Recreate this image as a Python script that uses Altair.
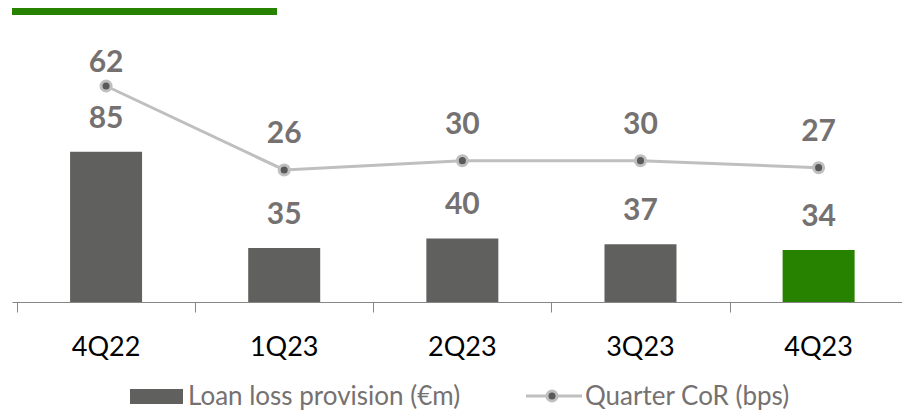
import altair as alt
import pandas as pd

categories = ["4Q22", "1Q23", "2Q23", "3Q23", "4Q23"]
provision = [85, 35, 40, 37, 34]
cor = [62, 26, 30, 30, 27]
legend_labels = ["Loan loss provision (€m)", "Quarter CoR (bps)"]

df = pd.DataFrame({"idx": list(range(len(categories))), "cat": categories,
                   "prov": provision, "cor": cor})

GRAY = "#60605E"
GREEN = "#278200"
LBL = "#767171"
LINE = "#BFBFBF"
DOT = "#595959"
AXIS = "#868686"
FONT = "Lato"

xscale = alt.Scale(domain=[-0.5, 4.44], nice=False, zero=False)
yb = alt.Scale(domain=[7, 153.3], nice=False, zero=False)
yl = alt.Scale(domain=[-30.6, 90.3], nice=False, zero=False)

base = alt.Chart(df)
x_ax = alt.X("idx:Q", scale=xscale,
             axis=alt.Axis(values=[-0.5, 0.5, 1.5, 2.5, 3.5], labels=False, grid=False,
                           ticks=True, tickSize=10, tickColor=AXIS, domainColor=AXIS,
                           tickWidth=1, domainWidth=1, title=None))
y_bar = alt.Y("prov:Q", scale=yb, axis=None)
y_line = alt.Y("cor:Q", scale=yl, axis=None)

bars = base.mark_bar(size=72, clip=True).encode(
    x=x_ax, y=y_bar,
    color=alt.condition(alt.datum.idx == 4, alt.value(GREEN), alt.value(GRAY)),
)
bar_labels = base.mark_text(dy=-33, baseline="middle", font=FONT, fontSize=30,
                            fontWeight="bold", color=LBL).encode(x=x_ax, y=y_bar, text="prov:Q")

line = base.mark_line(color=LINE, strokeWidth=3).encode(x=x_ax, y=y_line)
outer = base.mark_point(filled=True, size=170, color=LINE, opacity=1, shape="circle").encode(x=x_ax, y=y_line)
inner = base.mark_point(filled=True, size=50, color=DOT, opacity=1, shape="circle").encode(x=x_ax, y=y_line)
cor_first = base.transform_filter(alt.datum.idx == 0).mark_text(
    dy=-23, baseline="middle", font=FONT, fontSize=30, fontWeight="bold", color=LBL
).encode(x=x_ax, y=y_line, text="cor:Q")
cor_rest = base.transform_filter(alt.datum.idx > 0).mark_text(
    dy=-36, baseline="middle", font=FONT, fontSize=30, fontWeight="bold", color=LBL
).encode(x=x_ax, y=y_line, text="cor:Q")

cat_labels = base.mark_text(baseline="alphabetic", font=FONT, fontSize=27, color="black").encode(
    x=x_ax, y=alt.value(336), text="cat:N")

one = alt.Chart(pd.DataFrame({"a": [0]}))
top_bar = one.mark_rect(color=GREEN).encode(
    x=alt.value(0), x2=alt.value(265), y=alt.value(-12), y2=alt.value(-5))

LB = 385  # legend text baseline
leg_swatch = one.mark_rect(color=GRAY).encode(
    x=alt.value(118), x2=alt.value(171), y=alt.value(LB - 16), y2=alt.value(LB - 1))
leg_text1 = one.mark_text(text=legend_labels[0], align="left", baseline="alphabetic",
                          font=FONT, fontSize=26, color=LBL).encode(
    x=alt.value(176), y=alt.value(LB))
leg_line = one.mark_rule(color=LINE, strokeWidth=3).encode(
    x=alt.value(514), x2=alt.value(570), y=alt.value(LB - 9))
leg_outer = one.mark_point(filled=True, size=170, color=LINE, opacity=1, shape="circle").encode(
    x=alt.value(540), y=alt.value(LB - 9))
leg_inner = one.mark_point(filled=True, size=50, color=DOT, opacity=1, shape="circle").encode(
    x=alt.value(540), y=alt.value(LB - 9))
leg_text2 = one.mark_text(text=legend_labels[1], align="left", baseline="alphabetic",
                          font=FONT, fontSize=26, color=LBL).encode(
    x=alt.value(573), y=alt.value(LB))

chart = alt.layer(
    bars, bar_labels, line, outer, inner, cor_first, cor_rest, cat_labels,
    top_bar, leg_swatch, leg_text1, leg_line, leg_outer, leg_inner, leg_text2,
).resolve_scale(y="independent").properties(
    width=890, height=282,
    padding={"left": 4, "top": 12, "right": 0, "bottom": 110},
    autosize=alt.AutoSizeParams(type="none"),
).configure_view(stroke=None)

chart.save("out.html", embed_options={"renderer": "svg", "actions": False})
